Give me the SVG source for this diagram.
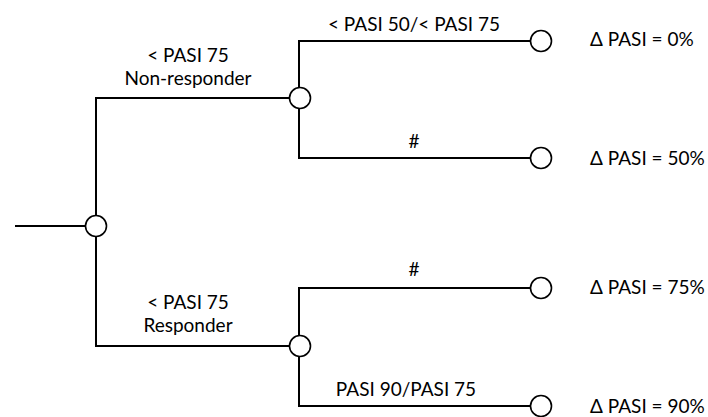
<svg xmlns="http://www.w3.org/2000/svg" width="708" height="417" viewBox="0 0 708 417">
<style>
.c{fill:none;stroke:#000;stroke-width:2}
.n{fill:#fff;stroke:#000;stroke-width:1.6}
text{font-family:Lato,"Liberation Sans",sans-serif;font-size:19px;fill:#000}
.m{text-anchor:middle}
</style>
<rect width="708" height="417" fill="#fff"/>
<g id="connectors">
<path class="c" d="M15 226H86"/>
<path class="c" d="M96 226V98H289"/>
<path class="c" d="M96 226V346H289"/>
<path class="c" d="M299 98V41H530"/>
<path class="c" d="M299 98V158H530"/>
<path class="c" d="M299 346V288H530"/>
<path class="c" d="M299 346V406H530"/>
</g>
<g id="root"><circle class="n" cx="96" cy="226" r="10.5"/></g>
<g id="nonresp"><circle class="n" cx="300" cy="98" r="10.5"/>
<text class="m" x="188" y="62">&lt; PASI 75</text><text class="m" x="188" y="85">Non-responder</text></g>
<g id="resp"><circle class="n" cx="300" cy="346" r="10.5"/>
<text class="m" x="188" y="309">&lt; PASI 75</text><text class="m" x="188" y="332">Responder</text></g>
<g id="t1"><circle class="n" cx="541" cy="41" r="10.5"/>
<text class="m" x="414" y="31">&lt; PASI 50/&lt; PASI 75</text><text x="590" y="46">Δ PASI = 0%</text></g>
<g id="t2"><circle class="n" cx="541" cy="158" r="10.5"/>
<text class="m" x="414" y="148">#</text><text x="590" y="165">Δ PASI = 50%</text></g>
<g id="t3"><circle class="n" cx="541" cy="288" r="10.5"/>
<text class="m" x="414" y="276">#</text><text x="590" y="294">Δ PASI = 75%</text></g>
<g id="t4"><circle class="n" cx="541" cy="406" r="10.5"/>
<text class="m" x="406" y="396">PASI 90/PASI 75</text><text x="590" y="413">Δ PASI = 90%</text></g>
</svg>
